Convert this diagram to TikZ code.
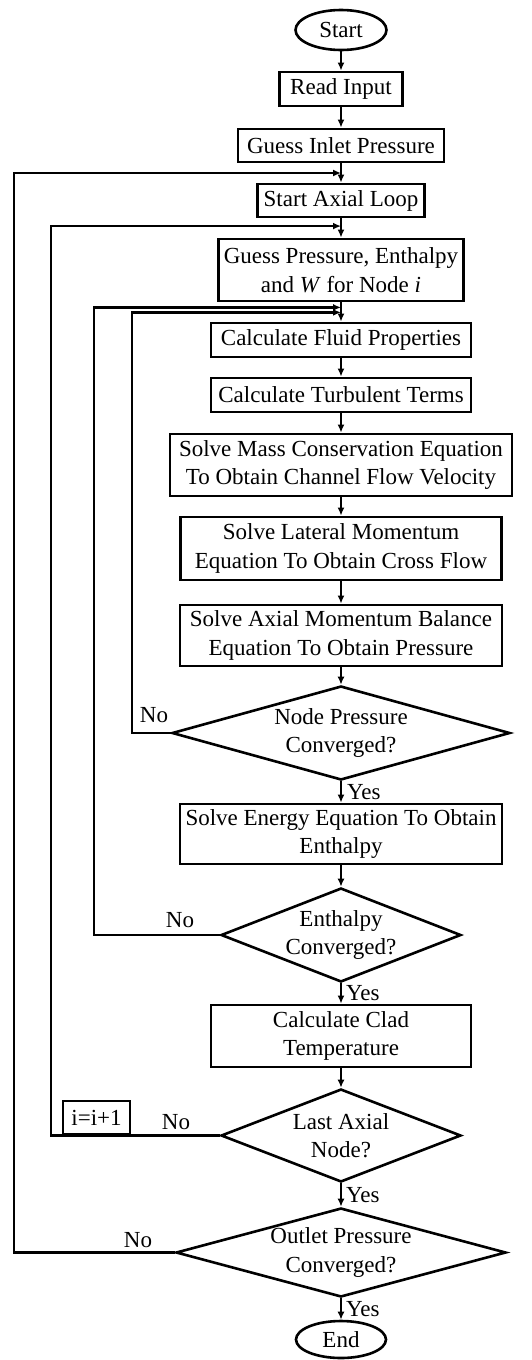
\documentclass[tikz,border=0pt]{standalone}
\usepackage{fontspec}
\setmainfont{Liberation Serif}
\usetikzlibrary{shapes.geometric,arrows.meta,calc}

\begin{document}
\begin{tikzpicture}[x=1pt, y=-1pt, >={Latex[length=8pt,width=7pt]},
    font=\fontsize{23}{28.5}\selectfont,
    box/.style={draw, line width=2.8pt, align=center, inner sep=0pt},
    term/.style={draw, ellipse, line width=2.6pt, inner sep=0pt},
    dec/.style={draw, diamond, line width=2.6pt, align=center, inner sep=0pt},
    flow/.style={->, line width=2.2pt}]
    \useasboundingbox (0,0) rectangle (532,1360);

    \node[term, minimum width=91, minimum height=40](start)at(341,30){Start};
    \node[box, minimum width=123, minimum height=34](read)at(341,89){Read Input};
    \node[box, minimum width=206, minimum height=33](inlet)at(341,145.5){Guess Inlet Pressure};
    \node[box, minimum width=167, minimum height=33](axial)at(341,200.5){Start Axial Loop};
    \node[box, minimum width=245, minimum height=62](guess)at(341,270){Guess Pressure, Enthalpy\\and \textit{W} for Node \textit{i}};
    \node[box, minimum width=260, minimum height=34](fluid)at(341,340){Calculate Fluid Properties};
    \node[box, minimum width=260, minimum height=34](turb)at(341,395){Calculate Turbulent Terms};
    \node[box, minimum width=342, minimum height=62](mass)at(341,465){Solve Mass Conservation Equation\\To Obtain Channel Flow Velocity};
    \node[box, minimum width=321, minimum height=63](lateral)at(341,548.5){Solve Lateral Momentum\\Equation To Obtain Cross Flow};
    \node[box, minimum width=322, minimum height=61](axmom)at(341,635.5){Solve Axial Momentum Balance\\Equation To Obtain Pressure};
    \node[dec, aspect=3.57, minimum width=338, minimum height=94](npc)at(341,733){Node Pressure\\Converged?};
    \node[box, minimum width=322, minimum height=60](energy)at(341,834){Solve Energy Equation To Obtain\\Enthalpy};
    \node[dec, aspect=2.55, minimum width=240, minimum height=94](enth)at(341,935){Enthalpy\\Converged?};
    \node[box, minimum width=260, minimum height=62](clad)at(341,1036){Calculate Clad\\Temperature};
    \node[dec, aspect=2.58, minimum width=240, minimum height=93](last)at(341,1135.5){Last Axial\\Node?};
    \node[dec, aspect=3.7, minimum width=330, minimum height=89](outlet)at(341,1252.5){Outlet Pressure\\Converged?};
    \node[term, minimum width=90, minimum height=37](end)at(341,1339.5){End};
    \node[box, line width=2.2pt, minimum width=67, minimum height=33](incr)at(96.5,1117.5){i=i+1};

    \coordinate(j1)at($(inlet.south)!0.5!(axial.north)$);
    \coordinate(j2)at($(axial.south)!0.4!(guess.north)$);
    \coordinate(j3)at($(guess.south)+(0,5)$);
    \coordinate(j4)at($(guess.south)+(0,10)$);

    \draw[flow](start.south)--(read.north);
    \draw[flow](read.south)--(inlet.north);
    \draw[flow](inlet.south)--(axial.north);
    \draw[flow](axial.south)--(guess.north);
    \draw[flow](guess.south)--(fluid.north);
    \draw[flow](fluid.south)--(turb.north);
    \draw[flow](turb.south)--(mass.north);
    \draw[flow](mass.south)--(lateral.north);
    \draw[flow](lateral.south)--(axmom.north);
    \draw[flow](axmom.south)--(npc.north);
    \draw[flow](npc.south)--(energy.north)node[midway,right,inner sep=5pt]{Yes};
    \draw[flow](energy.south)--(enth.north);
    \draw[flow](enth.south)--(clad.north)node[midway,right,inner sep=4pt]{Yes};
    \draw[flow](clad.south)--(last.north);
    \draw[flow](last.south)--(outlet.north)node[midway,right,inner sep=4pt]{Yes};
    \draw[flow](outlet.south)--(end.north)node[midway,right,inner sep=4pt]{Yes};

    \draw[flow](npc.west)--++(-39,0)|-(j4);
    \draw[flow](enth.west)--++(-126,0)|-(j3);
    \draw[flow](last.west)--++(-169,0)|-(j2);
    \draw[flow](outlet.west)--++(-161,0)|-(j1);

    \node(no1)at(154,715){No};
    \node(no2)at(180,920){No};
    \node(no3)at(176,1122){No};
    \node(no4)at(138,1240){No};
\end{tikzpicture}
\end{document}
